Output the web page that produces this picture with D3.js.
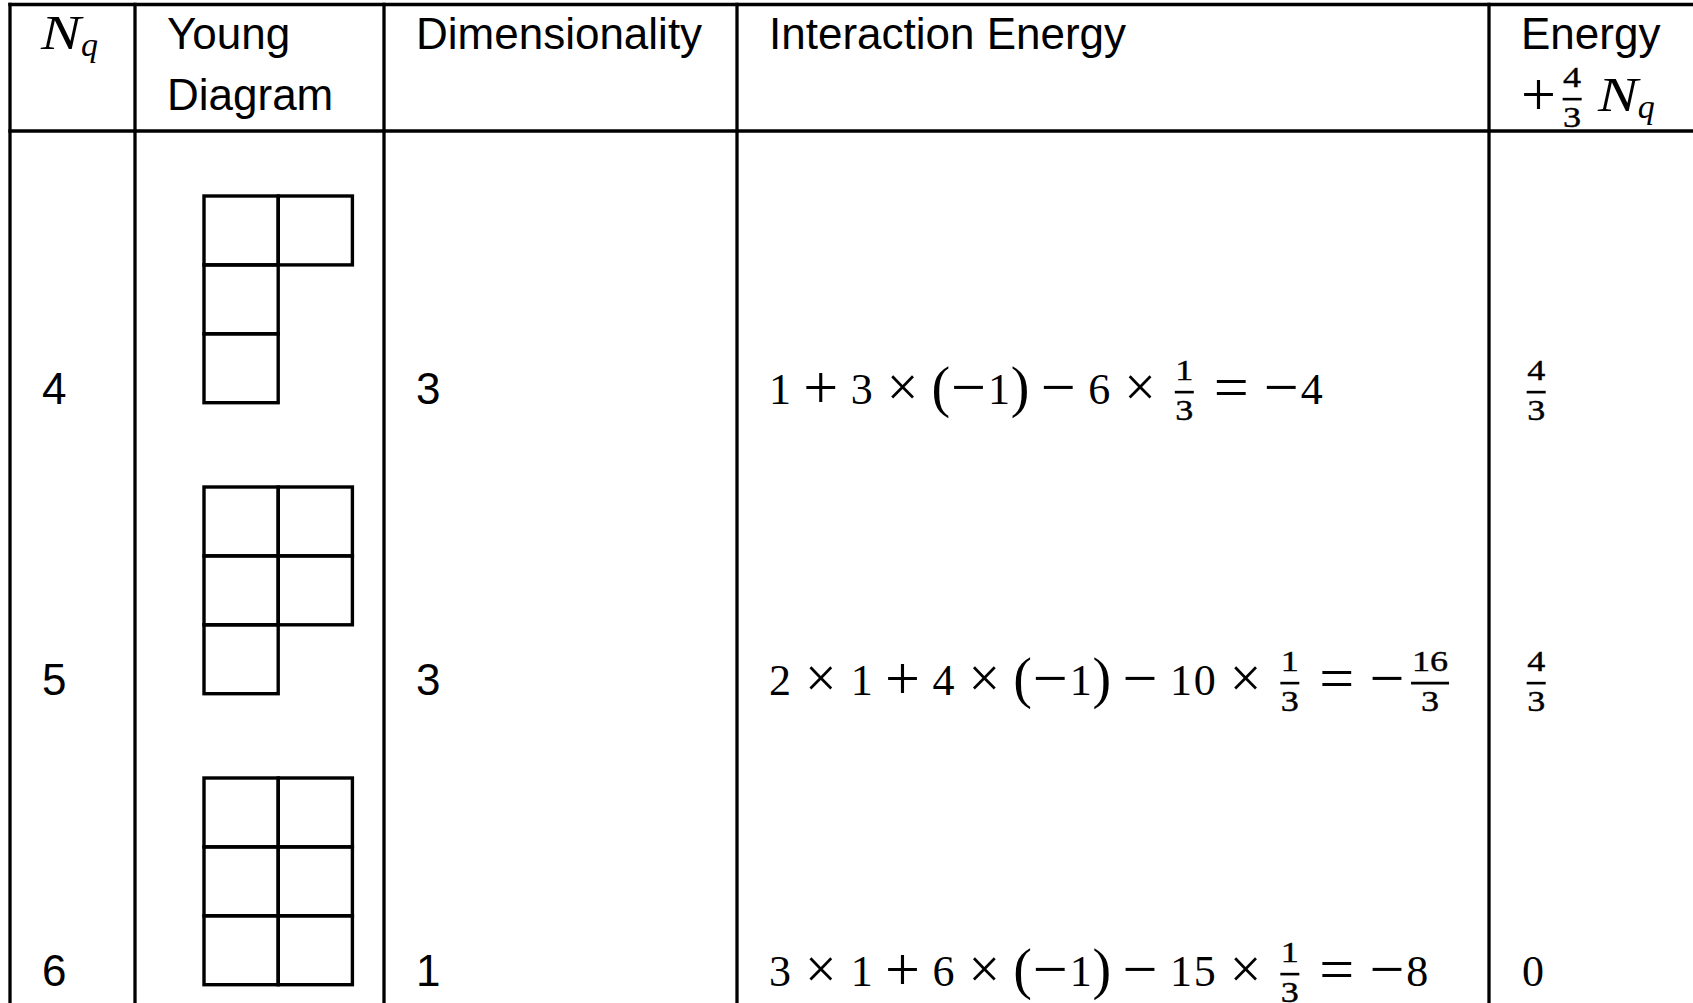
<!DOCTYPE html>
<html>
<head>
<meta charset="utf-8">
<script src="https://cdn.jsdelivr.net/npm/d3@7"></script>
<style>
  html, body { margin: 0; padding: 0; background: #fff; }
  svg { display: block; }
</style>
</head>
<body>
<svg id="chart" width="1693" height="1003"></svg>
<script>
// ---- table contents ----
var nq = [4, 5, 6];
var youngRows = [[2, 1, 1], [2, 2, 1], [2, 2, 2]];   // boxes in each row of the diagram
var dims = [3, 3, 1];
var interaction = [
  "1 + 3 × (−1) − 6 × {1/3} = −4",
  "2 × 1 + 4 × (−1) − 10 × {1/3} = −{16/3}",
  "3 × 1 + 6 × (−1) − 15 × {1/3} = −8"
];
var shifted = ["{4/3}", "{4/3}", "0"];
// "$" marks a math line
var headers = [["$N_q"], ["Young", "Diagram"], ["Dimensionality"], ["Interaction Energy"], ["Energy", "$+{4/3} N_q"]];

// ---- layout ----
var W = 1693, H = 1003;
var colEdges = [10, 135, 384, 737, 1489];
var topY = 4.5, headY = 131, rowH = 291;
var pad = 32, mathPad = 31;
var headBase = [49, 110], headMathBase = [49, 111];
var sans = "'Liberation Sans', Arial, Helvetica, sans-serif";
var serif = "'Liberation Serif', 'Times New Roman', serif";
var u = 47.5;          // math em used for spacing
var lw = 3.3;

var svg = d3.select("#chart");
svg.append("rect").attr("width", W).attr("height", H).attr("fill", "#fff");

var x = d3.scaleOrdinal().domain(d3.range(colEdges.length)).range(colEdges);
var y = d3.scaleLinear().domain([0, 1]).range([headY, headY + rowH]);
var boxX = d3.scaleLinear().domain([0, 1]).range([204, 278.2]);
var boxY = d3.scaleLinear().domain([0, 1]).range([65, 133.9]);

// math typesetting (very small TeX-like layout)
function mathLine(g, src, x0, base) {
  var axis = base - 0.25 * u;
  var tokens = src.match(/\{\d+\/\d+\}|[A-Za-z]_[a-z]|\s|./g);
  var cx = x0;
  tokens.forEach(function (t, i) {
    if (t === " ") {
      var rel = tokens[i - 1] === "=" || tokens[i + 1] === "=";
      cx += (rel ? 0.278 : 0.222) * u;
    } else if (t[0] === "{") {
      var parts = t.slice(1, -1).split("/");
      var n = d3.max(parts, function (p) { return p.length; });
      var bw = n * 0.4 * u;
      var bx = cx + 0.12 * u;
      g.append("line")
        .attr("x1", bx).attr("x2", bx + bw)
        .attr("y1", axis).attr("y2", axis)
        .attr("stroke", "#000").attr("stroke-width", 2.6);
      [[parts[0], axis - 12], [parts[1], axis + 28]].forEach(function (p) {
        g.append("text")
          .attr("x", bx + bw / 2).attr("y", p[1])
          .attr("text-anchor", "middle")
          .attr("font-family", serif).attr("font-size", 30)
          .attr("stroke", "#000").attr("stroke-width", 0.4)
          .attr("textLength", p[0].length * 0.4 * u * 0.95)
          .attr("lengthAdjust", "spacingAndGlyphs")
          .text(p[0]);
      });
      cx += bw + 0.24 * u;
    } else if ("+−×=".indexOf(t) >= 0) {
      var fsOp = t === "×" ? 56 : 62;
      g.append("text")
        .attr("x", cx + 0.389 * u).attr("y", axis + 0.25 * fsOp)
        .attr("text-anchor", "middle")
        .attr("font-family", serif).attr("font-size", fsOp)
        .text(t);
      cx += 0.778 * u;
    } else if (t === "(" || t === ")") {
      g.append("text")
        .attr("x", cx + 0.195 * u).attr("y", base + 2)
        .attr("text-anchor", "middle")
        .attr("font-family", serif).attr("font-size", 56)
        .text(t);
      cx += 0.389 * u;
    } else if (t.length === 3) {
      // italic symbol with subscript
      g.append("text")
        .attr("x", cx).attr("y", base)
        .attr("font-family", serif).attr("font-style", "italic")
        .attr("font-size", 48)
        .attr("textLength", 0.84 * u).attr("lengthAdjust", "spacingAndGlyphs")
        .text(t[0]);
      g.append("text")
        .attr("x", cx + 0.84 * u).attr("y", base + 7)
        .attr("font-family", serif).attr("font-style", "italic")
        .attr("font-size", 34)
        .text(t[2]);
      cx += 1.2 * u;
    } else {
      g.append("text")
        .attr("x", cx + 0.25 * u).attr("y", base)
        .attr("text-anchor", "middle")
        .attr("font-family", serif).attr("font-size", 44)
        .text(t);
      cx += 0.5 * u;
    }
  });
}

function sansText(g, txt, px, py) {
  g.append("text")
    .attr("x", px).attr("y", py)
    .attr("font-family", sans).attr("font-size", 44)
    .attr("fill", "#000")
    .text(txt);
}

// ---- grid ----
var grid = svg.append("g").attr("stroke", "#000").attr("stroke-width", lw);
grid.selectAll("line.h").data([topY, headY]).enter().append("line")
  .attr("class", "h")
  .attr("x1", colEdges[0] - lw / 2).attr("x2", W)
  .attr("y1", function (d) { return d; }).attr("y2", function (d) { return d; });
grid.selectAll("line.v").data(colEdges).enter().append("line")
  .attr("class", "v")
  .attr("x1", function (d) { return d; }).attr("x2", function (d) { return d; })
  .attr("y1", topY - lw / 2).attr("y2", H);

// ---- header ----
var head = svg.append("g");
headers.forEach(function (lines, c) {
  lines.forEach(function (txt, k) {
    if (txt[0] === "$") mathLine(head, txt.slice(1), x(c) + mathPad, headMathBase[k]);
    else sansText(head, txt, x(c) + pad, headBase[k]);
  });
});

// ---- rows ----
var body = svg.append("g");
nq.forEach(function (n, i) {
  var base = y(i) + 273;
  sansText(body, n, x(0) + pad, base);
  sansText(body, dims[i], x(2) + pad, base);
  mathLine(body, interaction[i], x(3) + mathPad, base);
  mathLine(body, shifted[i], x(4) + mathPad + 1, base);

  var cells = [];
  youngRows[i].forEach(function (cnt, r) {
    d3.range(cnt).forEach(function (c) { cells.push({ r: r, c: c }); });
  });
  body.append("g").selectAll("rect").data(cells).enter().append("rect")
    .attr("x", function (d) { return boxX(d.c); })
    .attr("y", function (d) { return y(i) + boxY(d.r); })
    .attr("width", boxX(1) - boxX(0))
    .attr("height", boxY(1) - boxY(0))
    .attr("fill", "none").attr("stroke", "#000").attr("stroke-width", 3.4);
});
</script>
</body>
</html>
